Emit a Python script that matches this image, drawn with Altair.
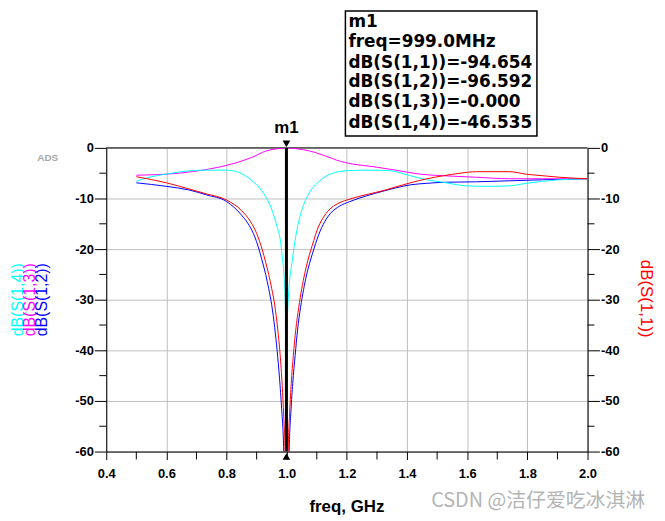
import altair as alt
import pandas as pd

# ---- data (freq in GHz, values in dB) ----
f_s11 = [0.5, 0.6, 0.674, 0.734, 0.8, 0.85, 0.88, 0.9, 0.918, 0.93, 0.94, 0.95,
         0.96, 0.97, 0.978, 0.985, 0.99, 0.995, 0.999,
         1.005, 1.01, 1.015, 1.022, 1.03, 1.04, 1.05, 1.06, 1.07, 1.08, 1.09,
         1.1, 1.12, 1.14, 1.17, 1.2, 1.26, 1.33, 1.363, 1.411, 1.466, 1.521,
         1.576, 1.631, 1.741, 1.796, 1.851, 1.906, 1.961, 2.0]
db_s11 = [-5.7, -6.9, -8.1, -9.1, -10.3, -12.4, -14.6, -16.9, -20.0, -22.6, -25.0, -27.8,
          -31.0, -35.8, -40.8, -47.0, -53.0, -61.0, -94.654,
          -60.0, -52.0, -46.5, -41.0, -36.0, -31.5, -27.8, -24.8, -22.3, -20.2, -18.3,
          -16.4, -13.9, -12.3, -11.0, -10.3, -9.3, -8.3, -7.7, -6.9, -6.1, -5.5,
          -5.0, -4.7, -4.7, -5.2, -5.5, -5.8, -6.0, -6.1]

f_s12 = [0.5, 0.6, 0.674, 0.734, 0.8, 0.85, 0.875, 0.894, 0.905, 0.916, 0.93, 0.94,
         0.95, 0.96, 0.968, 0.976, 0.983, 0.99, 0.999,
         1.008, 1.014, 1.02, 1.028, 1.036, 1.046, 1.056, 1.066, 1.076, 1.086, 1.096,
         1.106, 1.126, 1.146, 1.176, 1.21, 1.264, 1.33, 1.363, 1.411, 1.466, 1.521,
         1.631, 1.741, 1.851, 2.0]
db_s12 = [-6.9, -7.6, -8.3, -9.3, -10.6, -13.3, -15.3, -17.6, -19.5, -21.8, -25.0, -27.8,
          -31.0, -35.5, -40.0, -45.5, -51.5, -60.0, -96.592,
          -60.0, -52.0, -46.5, -41.0, -36.0, -31.5, -28.0, -25.1, -22.8, -20.8, -18.9,
          -17.2, -14.6, -12.9, -11.5, -10.6, -9.5, -8.4, -7.9, -7.3, -7.0, -6.8,
          -6.7, -6.5, -6.3, -6.1]

f_s13 = [0.5, 0.641, 0.74, 0.817, 0.883, 0.932, 0.97, 0.999, 1.03, 1.075, 1.147,
         1.165, 1.22, 1.287, 1.363, 1.444, 1.521, 1.631, 1.741, 1.851, 2.0]
db_s13 = [-5.4, -5.0, -4.2, -3.2, -1.9, -0.6, -0.15, 0.0, -0.15, -0.6, -2.0,
          -2.4, -3.2, -3.7, -4.4, -5.2, -5.5, -5.8, -6.1, -6.1, -6.1]

f_s14 = [0.5, 0.542, 0.597, 0.663, 0.729, 0.8, 0.839, 0.883, 0.916, 0.938, 0.965,
         0.982, 0.995, 0.998, 0.999, 1.001, 1.005, 1.019, 1.033, 1.05, 1.072,
         1.11, 1.165, 1.204, 1.275, 1.341, 1.411, 1.466, 1.521, 1.598, 1.664,
         1.741, 1.796, 1.851, 1.906, 2.0]
db_s14 = [-6.6, -5.8, -5.2, -4.6, -4.4, -4.4, -4.8, -6.4, -8.4, -10.5, -15.0,
          -19.8, -30.0, -37.0, -46.535, -37.0, -30.0, -22.0, -16.5, -12.3, -9.2,
          -6.5, -4.8, -4.5, -4.4, -4.5, -5.5, -6.3, -6.8, -7.5, -7.6,
          -7.5, -7.0, -6.6, -6.3, -6.1]

x_ticks = [0.4, 0.6, 0.8, 1.0, 1.2, 1.4, 1.6, 1.8, 2.0]
x_minor = [0.5, 0.7, 0.9, 1.1, 1.3, 1.5, 1.7, 1.9]
y_ticks = [0, -10, -20, -30, -40, -50, -60]
y_minor = [-5, -15, -25, -35, -45, -55]

marker_freq = [0.999]
marker_lines = ["m1", "freq=999.0MHz", "dB(S(1,1))=-94.654", "dB(S(1,2))=-96.592",
                "dB(S(1,3))=-0.000", "dB(S(1,4))=-46.535"]
left_titles = ["dB(S(1,4))", "dB(S(1,3))", "dB(S(1,2))"]
left_title_colors = ["#00ffff", "#ff00ff", "#0000ff"]

# ---- tables ----
left_series = pd.concat([
    pd.DataFrame({"f": f_s12, "db": db_s12, "s": "S12"}),
    pd.DataFrame({"f": f_s13, "db": db_s13, "s": "S13"}),
    pd.DataFrame({"f": f_s14, "db": db_s14, "s": "S14"}),
])
right_series = pd.DataFrame({"f": f_s11, "db": db_s11})

W, H = 485, 306
FONT = "Liberation Sans"

xscale = alt.Scale(domain=[0.4, 2.0], nice=False, zero=False)
yscale = alt.Scale(domain=[-60, 0], nice=False, zero=False)

x_axis = alt.Axis(values=x_ticks, format=".1f", tickSize=8, labelPadding=8,
                  labelFont=FONT, labelFontSize=13, labelFontWeight="bold",
                  labelColor="black", domainColor="black", tickColor="black",
                  grid=True, gridColor="#c0c0c0", title=None, labelFlush=False)
y_axis_left = alt.Axis(values=y_ticks, labelExpr="'' + datum.value", tickSize=12,
                       labelPadding=1, labelFont=FONT, labelFontSize=13,
                       labelFontWeight="bold", labelColor="black",
                       domainColor="black", tickColor="black", grid=True,
                       gridColor="#c0c0c0", title=None, orient="left")
y_axis_right = alt.Axis(values=y_ticks, labelExpr="'' + datum.value", tickSize=12,
                        labelPadding=1, labelFont=FONT, labelFontSize=13,
                        labelFontWeight="bold", labelColor="black",
                        domainColor="black", tickColor="black", grid=False,
                        title=None, orient="right")

X = alt.X("f:Q", scale=xscale, axis=x_axis)
YL = alt.Y("db:Q", scale=yscale, axis=y_axis_left)

lines_left = alt.Chart(left_series).mark_line(
    strokeWidth=1, clip=True, interpolate="monotone"
).encode(
    x=X, y=YL,
    color=alt.Color("s:N", scale=alt.Scale(domain=["S12", "S13", "S14"],
                                           range=["#0000ff", "#ff00ff", "#00ffff"]),
                    legend=None),
)

one = pd.DataFrame({"k": [0]})

top_border = alt.Chart(one).mark_rule(color="black", strokeWidth=1).encode(
    x=alt.value(0), x2=alt.value(W), y=alt.value(0))

xminor_df = pd.DataFrame({"f": x_minor})
xminor = alt.Chart(xminor_df).mark_rule(color="black").encode(
    x=X, y=alt.value(H), y2=alt.value(H + 8))

yminor_df = pd.DataFrame({"db": y_minor})
yminor_l = alt.Chart(yminor_df).mark_rule(color="black").encode(
    y=YL, x=alt.value(-7), x2=alt.value(0))
yminor_r = alt.Chart(yminor_df).mark_rule(color="black").encode(
    y=YL, x=alt.value(W), x2=alt.value(W + 7))

mk = pd.DataFrame({"f": marker_freq, "top": [0], "bot": [-60]})
mk_rule = alt.Chart(mk).mark_rule(color="black", strokeWidth=3).encode(
    x=X, y=alt.Y("top:Q", scale=yscale, axis=y_axis_left), y2="bot:Q")
mk_tri_top = alt.Chart(mk).mark_point(shape="triangle-down", filled=True, color="black",
                                      size=60, opacity=1, yOffset=-4).encode(
    x=X, y=alt.Y("top:Q", scale=yscale, axis=y_axis_left))
mk_tri_bot = alt.Chart(mk).mark_point(shape="triangle-up", filled=True, color="black",
                                      size=60, opacity=1, yOffset=5).encode(
    x=X, y=alt.Y("bot:Q", scale=yscale, axis=y_axis_left))
mk_label = alt.Chart(mk).mark_text(text="m1", font=FONT, fontSize=17, fontWeight="bold",
                                   color="black", baseline="middle").encode(
    x=X, y=alt.value(-20))

box = alt.Chart(one).mark_rect(fill="white", stroke="black", strokeWidth=1.5).encode(
    x=alt.value(241), x2=alt.value(434), y=alt.value(-138), y2=alt.value(-12))

box_line_y = [-127, -107, -86, -66, -46, -25]
box_texts = [
    alt.Chart(one).mark_text(
        text=t, font="DejaVu Sans", fontSize=17, fontWeight="bold", color="black",
        align="left", baseline="middle"
    ).encode(x=alt.value(244), y=alt.value(yy))
    for t, yy in zip(marker_lines, box_line_y)
]

title_x = [-89, -77, -65]
ytitles = [
    alt.Chart(one).mark_text(
        text=t, font=FONT, fontSize=16, angle=270, color=c,
        align="center", baseline="middle"
    ).encode(x=alt.value(xx), y=alt.value(153))
    for t, c, xx in zip(left_titles, left_title_colors, title_x)
]

right_title = alt.Chart(one).mark_text(
    text="dB(S(1,1))", font=FONT, fontSize=17, angle=90, color="#ff0000",
    align="center", baseline="middle"
).encode(x=alt.value(544), y=alt.value(152))

xtitle = alt.Chart(one).mark_text(
    text="freq, GHz", font=FONT, fontSize=17, fontWeight="bold", color="black",
    align="center", baseline="middle"
).encode(x=alt.value(W / 2), y=alt.value(362))

ads = alt.Chart(one).mark_text(
    text="ADS", font=FONT, fontSize=10, fontWeight="bold", color="#a8a8a8",
    align="center", baseline="middle"
).encode(x=alt.value(-59), y=alt.value(10))

watermark = alt.Chart(one).mark_text(
    text="CSDN @洁仔爱吃冰淇淋", font="Noto Sans CJK SC", fontSize=20,
    color="#b4b4b4", align="right", baseline="middle"
).encode(x=alt.value(543), y=alt.value(356))

left = alt.layer(
    xminor, yminor_l, yminor_r, top_border, lines_left,
    mk_rule, mk_tri_top, mk_tri_bot, mk_label, box, *box_texts,
    *ytitles, right_title, xtitle, ads, watermark,
)

right = alt.Chart(right_series).mark_line(
    strokeWidth=1, color="#ff0000", clip=True, interpolate="monotone"
).encode(
    x=X,
    y=alt.Y("db:Q", scale=yscale, axis=y_axis_right),
)

chart = alt.layer(left, right).resolve_scale(y="independent").properties(
    width=W, height=H,
    autosize=alt.AutoSizeParams(type="none"),
    padding={"left": 99, "top": 139, "right": 70, "bottom": 66},
).configure_view(stroke=None).configure(background="white")

chart.save("out.html", embed_options={"renderer": "svg", "actions": False})
